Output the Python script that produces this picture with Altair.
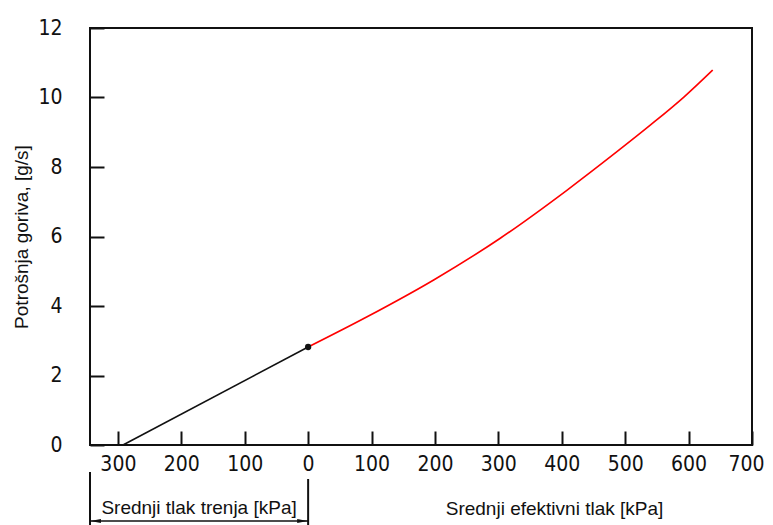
import altair as alt
import pandas as pd

# ---- data ----
fric_x = [-292, 0]
fric_y = [0.0, 2.82]
eff_x = [0, 93, 198, 303, 408, 487, 540, 593, 638]
eff_y = [2.82, 3.69, 4.75, 5.95, 7.33, 8.44, 9.21, 10.02, 10.79]
x_ticks = [-300, -200, -100, 0, 100, 200, 300, 400, 500, 600, 700]
y_ticks = [0, 2, 4, 6, 8, 10, 12]
x_domain = [-344, 700]
y_domain = [0, 12]
x_title = "Srednji efektivni tlak [kPa]"
y_title = "Potrošnja goriva, [g/s]"
fric_label = "Srednji tlak trenja [kPa]"

W, H = 662, 417
TICK_FONT = "DejaVu Sans Condensed"
TITLE_FONT = "Liberation Sans"

fric_df = pd.DataFrame({"x": fric_x, "y": fric_y})
eff_df = pd.DataFrame({"x": eff_x, "y": eff_y})
dot_df = pd.DataFrame({"x": [eff_x[0]], "y": [eff_y[0]]})

xs = alt.Scale(domain=x_domain, nice=False, zero=False)
ys = alt.Scale(domain=y_domain, nice=False)

x_axis = alt.Axis(
    values=x_ticks, labelExpr="'' + abs(datum.value)", grid=False, domain=False,
    offset=-14, tickSize=14, tickWidth=2, tickColor="#111",
    labelFont=TICK_FONT, labelFontSize=21, labelColor="#111", labelPadding=8,
    labelOffset={"condition": {"test": f"datum.value == {x_domain[1]}", "value": -6}, "value": 0},
    labelFlush=False, labelOverlap=False, labelBound=False,
    title=x_title, titleFont=TITLE_FONT, titleFontSize=19, titleFontWeight="normal",
    titleColor="#111", titleX=464, titleY=83, titleAlign="center",
    titleBaseline="alphabetic", titleAnchor="start",
)
y_axis = alt.Axis(
    values=y_ticks, grid=False, domain=False,
    offset=-14, tickSize=14, tickWidth=2, tickColor="#111",
    labelFont=TICK_FONT, labelFontSize=21, labelColor="#111", labelPadding=28,
    labelFlush=False, labelOverlap=False,
    title=y_title, titleFont=TITLE_FONT, titleFontSize=19, titleFontWeight="normal",
    titleColor="#111", titleAngle=270, titleX=-77, titleY=H / 2, titleAlign="center",
    titleBaseline="alphabetic", titleAnchor="start",
)


def X(field="x"):
    return alt.X(f"{field}:Q", scale=xs, axis=x_axis)


def Y():
    return alt.Y("y:Q", scale=ys, axis=y_axis)


fric_line = alt.Chart(fric_df).mark_line(color="#111", strokeWidth=1.6).encode(x=X(), y=Y())
eff_line = alt.Chart(eff_df).mark_line(color="#ff0000", strokeWidth=1.6, interpolate="monotone").encode(x=X(), y=Y())
dot = alt.Chart(dot_df).mark_point(filled=True, color="#111", size=40, opacity=1).encode(x=X(), y=Y())

# annotation below the axis: friction-pressure span
span_df = pd.DataFrame({"x": [x_domain[0], 0], "top": [444, 451]})
vlines = alt.Chart(span_df).mark_rule(color="#111", strokeWidth=2).encode(
    x=X(), y=alt.Y("top:Q", scale=None), y2=alt.value(500)
)
arrow_df = pd.DataFrame({"x": [x_domain[0]], "x2": [0]})
arrow = alt.Chart(arrow_df).mark_rule(color="#111", strokeWidth=1.6).encode(
    x=X(), x2="x2:Q", y=alt.value(493)
)
head_l = alt.Chart(pd.DataFrame({"x": [x_domain[0] + 9]})).mark_point(
    shape="M-1,0L1,-0.4L1,0.4Z", filled=True, color="#111", size=110, opacity=1
).encode(x=X(), y=alt.value(493))
head_r = alt.Chart(pd.DataFrame({"x": [-9]})).mark_point(
    shape="M1,0L-1,-0.4L-1,0.4Z", filled=True, color="#111", size=110, opacity=1
).encode(x=X(), y=alt.value(493))
fric_text = alt.Chart(pd.DataFrame({"x": [x_domain[0] / 2], "t": [fric_label]})).mark_text(
    font=TITLE_FONT, fontSize=19, color="#111", baseline="alphabetic", align="center"
).encode(x=X(), y=alt.value(486), text="t:N")

chart = alt.layer(
    fric_line, eff_line, dot, vlines, arrow, head_l, head_r, fric_text
).properties(
    width=W, height=H,
    autosize=alt.AutoSizeParams(type="none"),
    padding={"left": 82, "top": 20, "right": 13, "bottom": 80},
    background="white",
).configure_view(
    stroke="#111", strokeWidth=2
)

chart.save("out.html", embed_options={"renderer": "svg", "actions": False})
